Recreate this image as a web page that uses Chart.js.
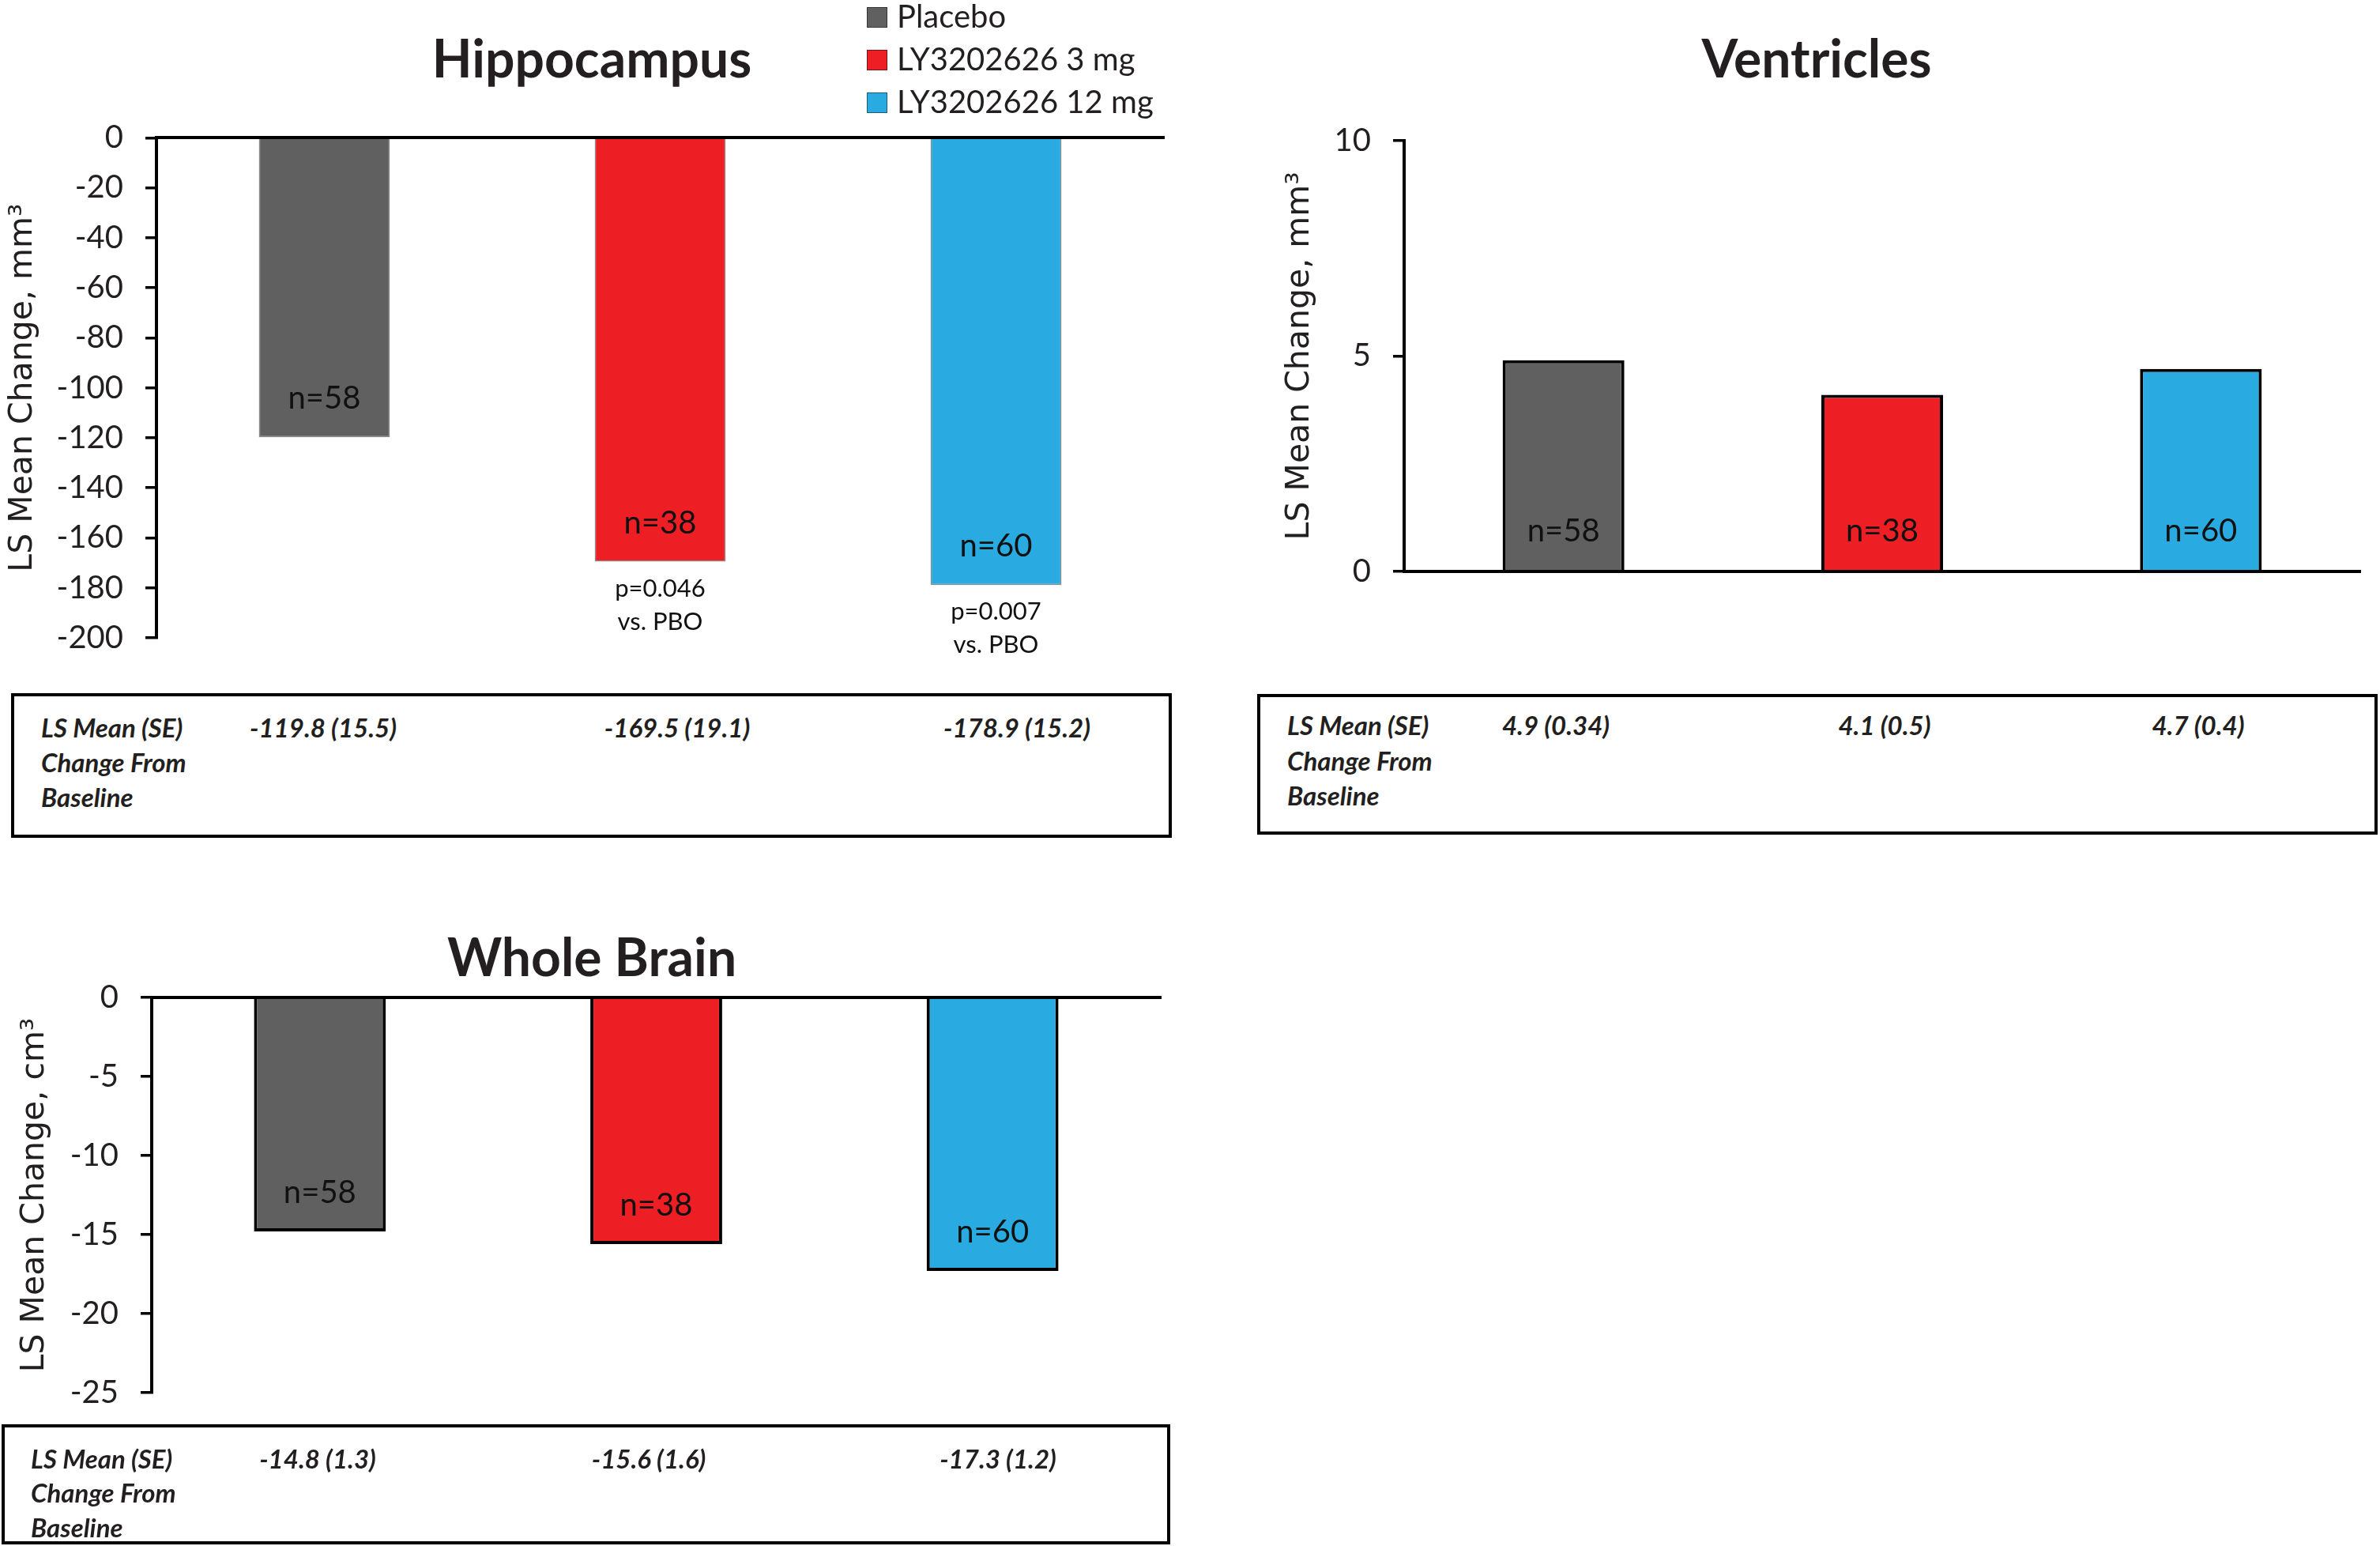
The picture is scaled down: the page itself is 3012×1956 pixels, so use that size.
<!DOCTYPE html>
<html>
<head>
<meta charset="utf-8">
<script src="https://cdn.jsdelivr.net/npm/chart.js@4.4.1/dist/chart.umd.min.js"></script>
<style>
  html, body { margin: 0; padding: 0; background: #fff; }
  body { position: relative; width: 3012px; height: 1956px; overflow: hidden; font-family: Lato, sans-serif; color: #231f20; }
  canvas { position: absolute; }
  .box { position: absolute; border: 4px solid #000; box-sizing: border-box; }
  .cell { position: absolute; height: 40px; line-height: 40px; font: italic bold 33px Lato, sans-serif; white-space: nowrap; }
  .mid { transform: translateX(-50%); }
  #legend { position: absolute; left: 1097px; top: -7px; font: 40px Lato, sans-serif; }
  #legend div { height: 54px; line-height: 54px; white-space: nowrap; }
  #legend span { display: inline-block; width: 26px; height: 26px; margin-right: 12px; vertical-align: middle; position: relative; top: -3px; box-sizing: border-box; border: 1px solid rgba(0, 0, 0, 0.45); }
</style>
</head>
<body>
<canvas id="hippoChart" width="1500" height="870" style="left:0px;top:0px"></canvas>
<canvas id="ventChart" width="1432" height="780" style="left:1580px;top:0px"></canvas>
<canvas id="brainChart" width="1500" height="690" style="left:0px;top:1150px"></canvas>
<div id="legend"></div>
<div id="tables"></div>
<script>
// data
const groups = ['Placebo', 'LY3202626 3 mg', 'LY3202626 12 mg']
const groupColors = ['#606060', '#ed1f24', '#29abe2']
const nCounts = ['n=58', 'n=38', 'n=60']

const hippoMeans = [-119.8, -169.5, -178.9]
const hippoSE = [15.5, 19.1, 15.2]
const hippoNotes = [null, ['p=0.046', 'vs. PBO'], ['p=0.007', 'vs. PBO']]

const ventMeans = [4.9, 4.1, 4.7]
const ventSE = [0.34, 0.5, 0.4]

const brainMeans = [-14.8, -15.6, -17.3]
const brainSE = [1.3, 1.6, 1.2]

const tableLabel = ['LS Mean (SE)', 'Change From', 'Baseline']

Chart.defaults.font.family = 'Lato'
Chart.defaults.color = '#231f20'

// n= inside the bars, p-values under them
const barLabels = {
  id: 'barLabels',
  afterDatasetsDraw (chart, args, opts) {
    const ctx = chart.ctx
    const bars = chart.getDatasetMeta(0).data
    ctx.save()
    ctx.fillStyle = '#111'
    ctx.textAlign = 'center'
    ctx.textBaseline = 'alphabetic'
    bars.forEach((bar, i) => {
      const bottom = Math.max(bar.y, bar.base)
      ctx.font = '40px Lato'
      ctx.fillText(opts.n[i], bar.x, bottom - 36)
      if (opts.notes && opts.notes[i]) {
        ctx.font = '31px Lato'
        opts.notes[i].forEach((line, k) => {
          ctx.fillText(line, bar.x, bottom + 44 + k * 42)
        })
      }
    })
    ctx.restore()
  }
}

function makeChart (id, cfg) {
  return new Chart(document.getElementById(id), {
    type: 'bar',
    data: {
      labels: groups,
      datasets: [{
        data: cfg.values,
        backgroundColor: groupColors,
        borderColor: cfg.borderColor,
        borderWidth: cfg.borderWidth,
        borderSkipped: 'start',
        barPercentage: cfg.barPct,
        categoryPercentage: 1
      }]
    },
    options: {
      responsive: false,
      animation: false,
      layout: { padding: cfg.padding },
      plugins: {
        legend: { display: false },
        tooltip: { enabled: false },
        title: {
          display: true,
          text: cfg.title,
          color: '#231f20',
          font: { family: 'Lato', weight: 'bold', size: 66, lineHeight: 1.2 },
          padding: cfg.titlePad
        },
        barLabels: { n: nCounts, notes: cfg.notes }
      },
      scales: {
        x: {
          position: cfg.xPos,
          z: 1,
          ticks: { display: false },
          grid: { display: true, drawOnChartArea: false, drawTicks: false },
          border: { display: true, color: '#000', width: 4 },
          afterFit: (scale) => { scale.height = 0 }
        },
        y: {
          min: cfg.min,
          max: cfg.max,
          z: 1,
          ticks: { stepSize: cfg.step, padding: 28, font: { size: 40 }, color: '#231f20' },
          grid: { drawOnChartArea: false, drawTicks: true, tickLength: 14, lineWidth: 3.5, color: '#000' },
          border: { display: true, color: '#000', width: 4 },
          title: {
            display: true,
            text: cfg.yTitle,
            color: '#231f20',
            font: { family: 'DejaVu Sans', size: 41, lineHeight: 0.1 },
            padding: { top: cfg.yTitleOffset, bottom: 0 }
          },
          afterFit: (scale) => { scale.width = cfg.yWidth }
        }
      }
    },
    plugins: [barLabels]
  })
}

makeChart('hippoChart', {
  title: 'Hippocampus',
  values: hippoMeans,
  notes: hippoNotes,
  min: -200, max: 0, step: 20,
  yTitle: 'LS Mean Change, mm\u00b3',
  xPos: 'top',
  barPct: 0.39,
  borderColor: 'rgba(40, 40, 40, 0.55)',
  borderWidth: 1.5,
  padding: { left: 25, right: 27, top: 0, bottom: 63 },
  titlePad: { top: 37.4, bottom: 57.7 },
  yWidth: 173,
  yTitleOffset: 2
})

makeChart('ventChart', {
  title: 'Ventricles',
  values: ventMeans,
  min: 0, max: 10, step: 5,
  yTitle: 'LS Mean Change, mm\u00b3',
  xPos: 'bottom',
  barPct: 0.382,
  borderColor: '#000',
  borderWidth: 4,
  padding: { left: 31, right: 25, top: 0, bottom: 57 },
  titlePad: { top: 37.4, bottom: 61.2 },
  yWidth: 166,
  yTitleOffset: 32
})

makeChart('brainChart', {
  title: 'Whole Brain',
  values: brainMeans,
  min: -25, max: 0, step: 5,
  yTitle: 'LS Mean Change, cm\u00b3',
  xPos: 'top',
  barPct: 0.392,
  borderColor: '#000',
  borderWidth: 4,
  padding: { left: 29, right: 31, top: 0, bottom: 78 },
  titlePad: { top: 24.4, bottom: 8.4 },
  yWidth: 163,
  yTitleOffset: 13
})

// legend
const legendEl = document.getElementById('legend')
groups.forEach((g, i) => {
  const row = document.createElement('div')
  const sw = document.createElement('span')
  sw.style.background = groupColors[i]
  row.appendChild(sw)
  row.appendChild(document.createTextNode(g))
  legendEl.appendChild(row)
})

// LS mean (SE) boxes under each chart
function makeTable (box, labelX, rowY, centers, means, se) {
  const wrap = document.getElementById('tables')
  const frame = document.createElement('div')
  frame.className = 'box'
  frame.style.left = box[0] + 'px'
  frame.style.top = box[1] + 'px'
  frame.style.width = box[2] + 'px'
  frame.style.height = box[3] + 'px'
  wrap.appendChild(frame)
  tableLabel.forEach((t, k) => {
    const c = document.createElement('div')
    c.className = 'cell'
    c.textContent = t
    c.style.left = labelX + 'px'
    c.style.top = (rowY[k] - 20) + 'px'
    wrap.appendChild(c)
  })
  means.forEach((m, i) => {
    const c = document.createElement('div')
    c.className = 'cell mid'
    c.textContent = `${m} (${se[i]})`
    c.style.left = centers[i] + 'px'
    c.style.top = (rowY[0] - 20) + 'px'
    wrap.appendChild(c)
  })
}

makeTable([14, 877, 1469, 183], 52, [920, 964, 1008], [409, 857, 1287], hippoMeans, hippoSE)
makeTable([1591, 878, 1418, 178], 1629, [917, 962, 1006], [1969, 2385, 2782], ventMeans, ventSE)
makeTable([2, 1802, 1479, 152], 39, [1845, 1888, 1932], [402, 821, 1263], brainMeans, brainSE)
</script>
</body>
</html>
